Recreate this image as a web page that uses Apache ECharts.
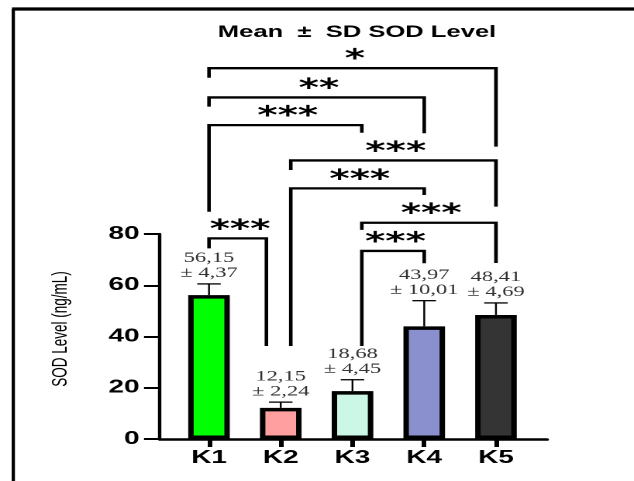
<!DOCTYPE html>
<html>
<head>
<meta charset="utf-8">
<script src="https://cdn.jsdelivr.net/npm/echarts@6.0.0/dist/echarts.min.js"></script>
<style>
  html, body { margin: 0; padding: 0; background: #fff; overflow: hidden; }
  #wrap { width: 634px; height: 481px; overflow: hidden; }
  #chart { height: 481px; transform-origin: 0 0; }
</style>
</head>
<body>
<div id="wrap"><div id="chart"></div></div>
<script>
// ---- data ----
const categories = ['K1', 'K2', 'K3', 'K4', 'K5'];
const means = [56.15, 12.15, 18.68, 43.97, 48.41];
const sds = [4.37, 2.24, 4.45, 10.01, 4.69];
const yTicks = [0, 20, 40, 60, 80];
// significance comparisons (1-based category positions)
const sigFrom = [1, 1, 1, 2, 2, 3, 3, 1];
const sigTo = [5, 4, 3, 5, 4, 5, 4, 2];
const sigLabels = ['*', '**', '***', '***', '***', '***', '***', '***'];

// ---- styling / layout ----
const S = 1.55; // horizontal stretch of the original figure
const W = 634 / S;
const barColors = ['#00ff00', '#ff9f9f', '#ccf6e5', '#8a8fcd', '#343434'];
// bracket geometry: [dxLeft, dxRight, topValue, leftLegEndValue, rightLegEndValue]
const bracketGeom = [
  [0, 0, 144.7, 141.0, 114.1],
  [0, 0, 133.3, 129.7, 119.3],
  [0, 0.13, 122.5, 88.7, 119.5],
  [0.14, 0, 108.7, 105.0, 90.7],
  [0.14, 0, 97.8, 36.3, 95.2],
  [0.13, 0, 84.4, 81.6, 68.7],
  [0.13, 0, 73.4, 36.3, 68.6],
  [0, -0.2, 78.3, 74.4, 36.3]
];

const chartEl = document.getElementById('chart');
chartEl.style.width = W + 'px';
chartEl.style.transform = 'scaleX(' + S + ')';
const chart = echarts.init(chartEl, null, { renderer: 'canvas', devicePixelRatio: 2 });

const fmt = v => v.toFixed(2).replace('.', ',');
const xPos = categories.map((c, i) => i + 1);

const barData = means.map((m, i) => ({
  value: [xPos[i], m],
  itemStyle: { color: barColors[i] }
}));
const errData = means.map((m, i) => [xPos[i], m, sds[i]]);
const bracketData = sigFrom.map((f, i) => [
  f + bracketGeom[i][0], sigTo[i] + bracketGeom[i][1],
  bracketGeom[i][2], bracketGeom[i][3], bracketGeom[i][4]
]);

const option = {
  animation: false,
  backgroundColor: '#fff',
  title: {
    text: 'Mean  \u00b1  SD SOD Level',
    left: 357 / S,
    textAlign: 'center',
    top: 24,
    padding: 0,
    textStyle: { fontFamily: 'Liberation Sans', fontWeight: 'bold', fontSize: 16.5, color: '#000' }
  },
  graphic: [
    { type: 'line', shape: { x1: 12 / S, y1: 9, x2: W, y2: 9 }, style: { stroke: '#000', lineWidth: 3.3 } },
    { type: 'line', shape: { x1: 13.3 / S, y1: 9, x2: 13.3 / S, y2: 481 }, style: { stroke: '#000', lineWidth: 2.1 } }
  ],
  grid: { left: 160 / S, right: W - 547 / S, top: 234, bottom: 42, containLabel: false },
  xAxis: {
    type: 'value',
    min: 1 - 49 / 71.75,
    max: 5 + 51 / 71.75,
    splitLine: { show: false },
    axisLine: { show: true, lineStyle: { color: '#000', width: 2.6 } },
    axisTick: { show: true, customValues: xPos, length: 8, lineStyle: { color: '#000', width: 3 } },
    axisLabel: {
      customValues: xPos,
      formatter: v => categories[Math.round(v) - 1] || '',
      margin: 10,
      fontFamily: 'Liberation Sans', fontWeight: 'bold', fontSize: 18, color: '#000'
    }
  },
  yAxis: {
    type: 'value',
    min: yTicks[0],
    max: yTicks[yTicks.length - 1],
    interval: yTicks[1] - yTicks[0],
    name: 'SOD Level (ng/mL)',
    nameLocation: 'middle',
    nameGap: 57,
    nameTextStyle: { fontFamily: 'Liberation Sans', fontSize: 13.5, color: '#000', padding: [0, 0, 0, 15] },
    splitLine: { show: false },
    axisLine: { show: true, lineStyle: { color: '#000', width: 2.2 } },
    axisTick: { show: true, length: 16 / S, lineStyle: { color: '#000', width: 2 } },
    axisLabel: { margin: 20.5 / S, fontFamily: 'Liberation Sans', fontWeight: 'bold', fontSize: 18, color: '#000' }
  },
  series: [
    {
      type: 'bar',
      data: barData,
      barWidth: 47 / S - 3.5,
      itemStyle: { borderColor: '#000', borderWidth: 3.5 },
      z: 2
    },
    {
      type: 'custom',
      data: errData,
      z: 3,
      renderItem: (params, api) => {
        const x = api.value(0), m = api.value(1), sd = api.value(2);
        const pm = api.coord([x, m]);
        const pt = api.coord([x, m + sd]);
        const half = 23.5 / S / 2;
        return {
          type: 'group',
          children: [
            { type: 'line', shape: { x1: pm[0], y1: pm[1], x2: pt[0], y2: pt[1] }, style: { stroke: '#000', lineWidth: 1.2 } },
            { type: 'line', shape: { x1: pt[0] - half, y1: pt[1], x2: pt[0] + half, y2: pt[1] }, style: { stroke: '#000', lineWidth: 1.3 } },
            {
              type: 'text', x: pt[0], y: pt[1] - 3,
              style: {
                text: fmt(m) + '\n\u00b1 ' + fmt(sd),
                align: 'center', verticalAlign: 'bottom',
                fontFamily: 'Liberation Serif', fontSize: 14.5, lineHeight: 15, fill: '#333'
              }
            }
          ]
        };
      }
    },
    {
      type: 'custom',
      data: bracketData,
      z: 4,
      clip: false,
      renderItem: (params, api) => {
        const i = params.dataIndex;
        const x1 = api.value(0), x2 = api.value(1), top = api.value(2), le = api.value(3), re = api.value(4);
        const pL = api.coord([x1, top]), pR = api.coord([x2, top]);
        const pLe = api.coord([x1, le]), pRe = api.coord([x2, re]);
        return {
          type: 'group',
          children: [
            {
              type: 'polyline',
              shape: { points: [pLe, pL, pR, pRe] },
              style: { stroke: '#000', lineWidth: 2.3, fill: null, lineJoin: 'miter', lineCap: 'butt' }
            },
            {
              type: 'text',
              x: (pL[0] + pR[0]) / 2 + 1.5,
              y: pL[1] - 8,
              style: {
                text: sigLabels[i],
                align: 'center', verticalAlign: 'middle',
                fontFamily: 'DejaVu Sans', fontWeight: 'bold', fontSize: 25, fill: '#000'
              }
            }
          ]
        };
      }
    }
  ]
};
chart.setOption(option);
</script>
</body>
</html>
